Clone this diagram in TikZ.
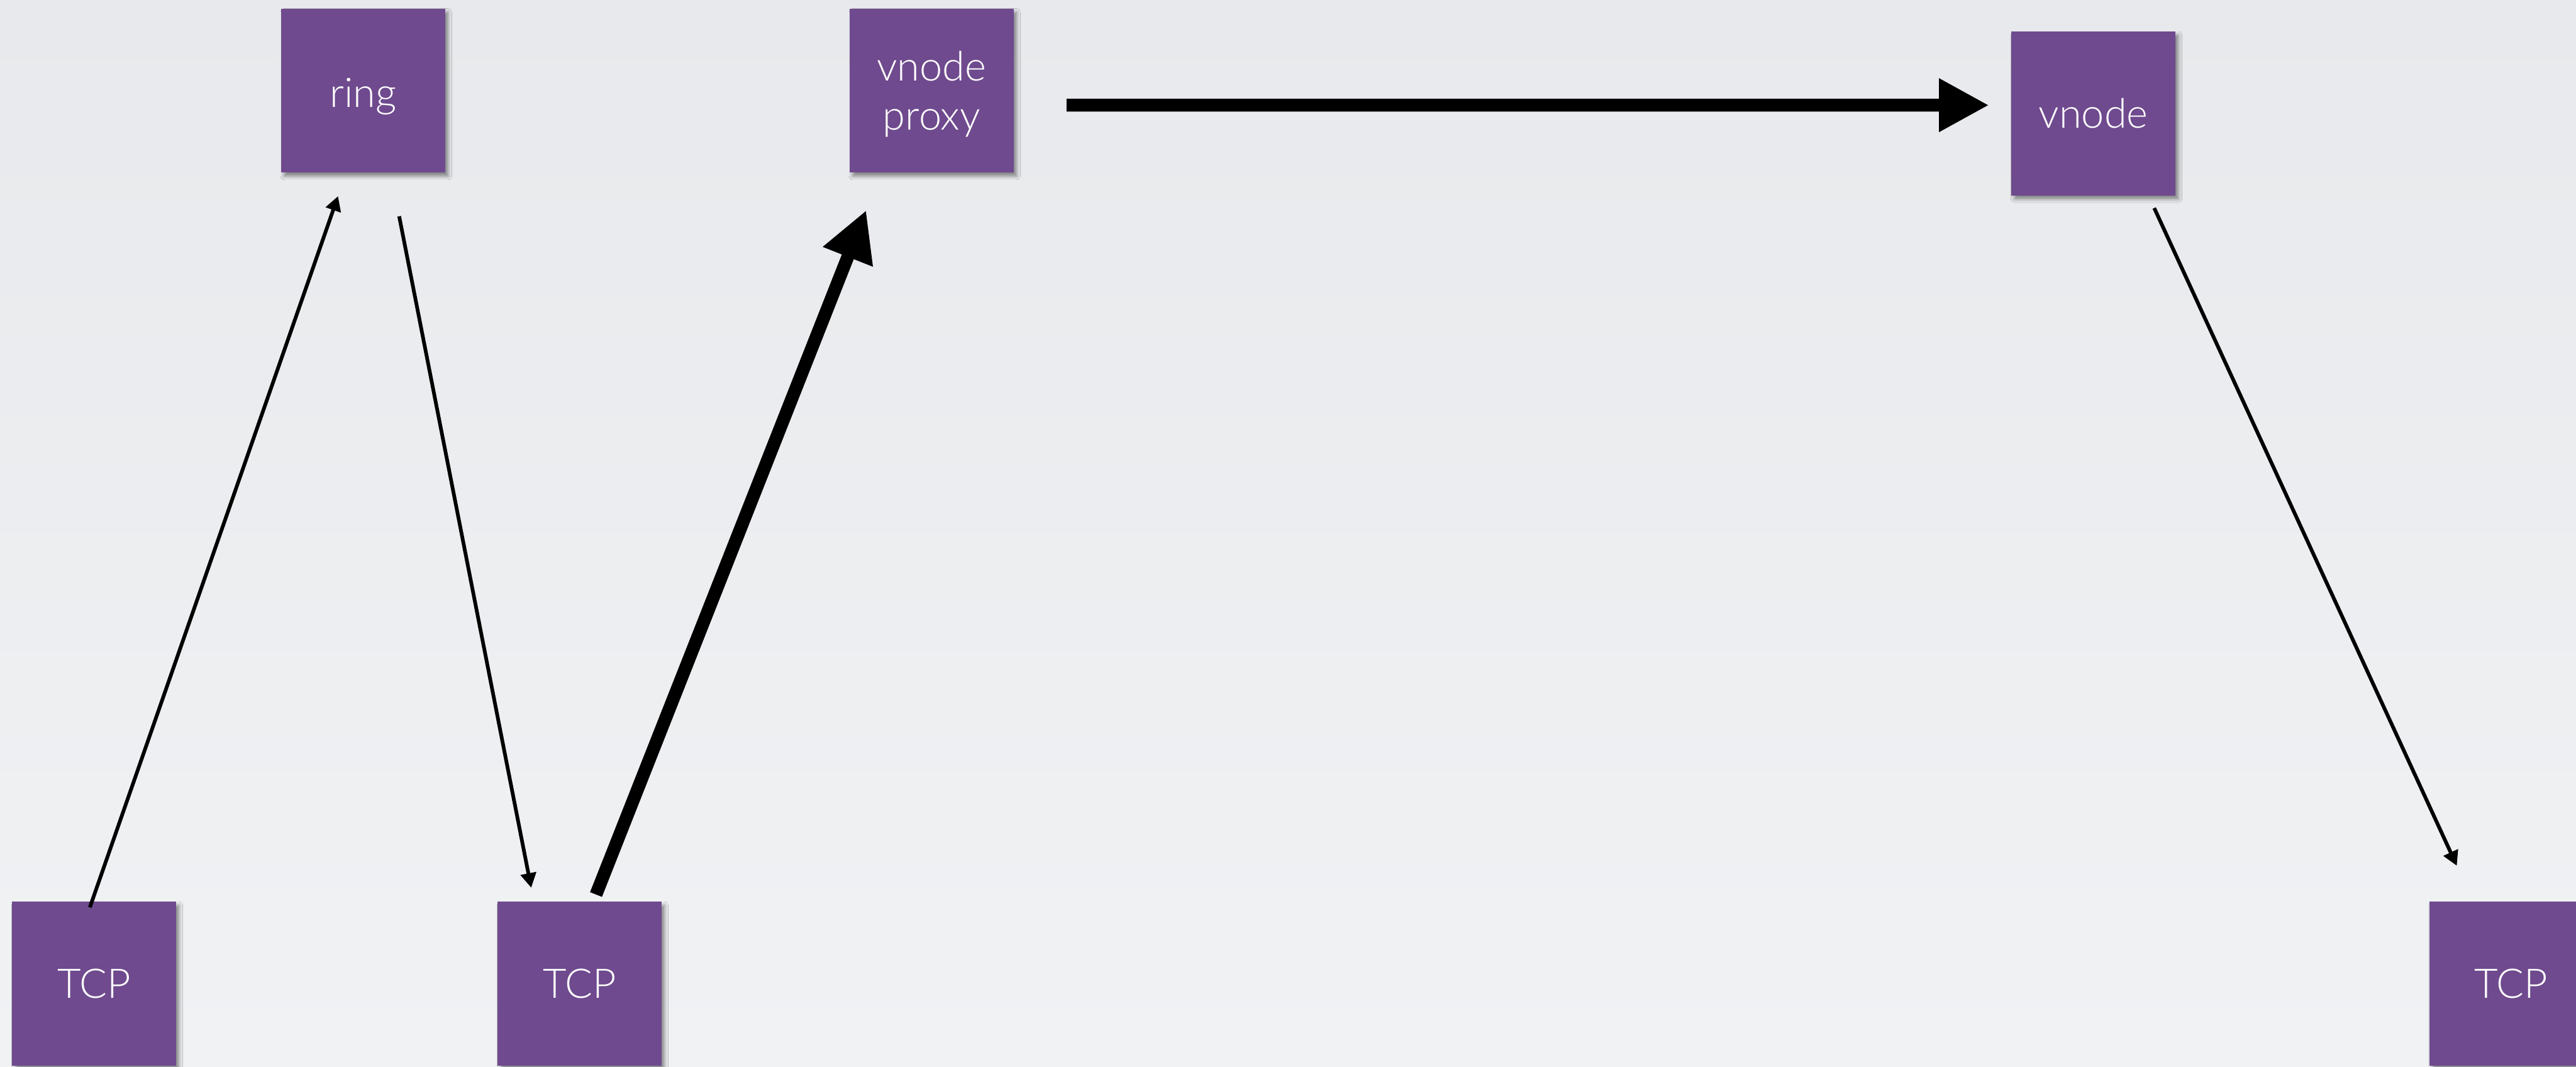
\documentclass[tikz,border=0pt]{standalone}
\usepackage{fontspec}
\setmainfont{Lato}[UprightFont={* Light}]
\usetikzlibrary{arrows.meta,shadows.blur,calc}
\definecolor{boxpurple}{RGB}{111,74,142}
\definecolor{bgtop}{RGB}{231,233,236}
\definecolor{bgbot}{RGB}{241,242,244}
\tikzset{
  box/.style={fill=boxpurple, minimum width=2.68cm, minimum height=2.68cm, inner sep=0pt,
    text=white, font=\fontsize{19}{23}\selectfont, align=center,
    blur shadow={shadow xshift=0.5mm, shadow yshift=-0.6mm, shadow blur radius=0.6mm, shadow opacity=45}},
  thinarrow/.style={line width=0.06cm, -{Triangle[length=0.24cm,width=0.25cm]}},
  thickarrow/.style={line width=0.21cm, -{Triangle[length=0.82cm,width=0.82cm]}}
}
\begin{document}
\begin{tikzpicture}
\shade[top color=bgtop, bottom color=bgbot] (0,0) rectangle (42.14,-17.44);
\useasboundingbox (0,0) rectangle (42.14,-17.44);

\node[box] (ring) at (5.94,-1.48) {\raisebox{-0.1cm}[\height][\depth]{ring}};
\node[box] (proxy) at (15.24,-1.48) {\raisebox{-0.08cm}[\height][\depth]{\begin{tabular}{@{}c@{}}vnode\\proxy\end{tabular}}};
\node[box] (vnode) at (34.245,-1.855) {vnode};
\node[box] (tcp1) at (1.54,-16.085) {TCP};
\node[box] (tcp2) at (9.48,-16.085) {TCP};
\node[box] (tcp3) at (41.08,-16.085) {TCP};

\draw[thinarrow] ([shift={(-0.07,-0.10)}]tcp1.north) -- ([shift={(-0.41,-0.38)}]ring.south);
\draw[thinarrow] ([shift={(0.59,-0.71)}]ring.south) -- ([shift={(-0.79,0.22)}]tcp2.north);
\draw[thickarrow] ([shift={(0.27,0.11)}]tcp2.north) -- ([shift={(-1.07,-0.61)}]proxy.south);
\draw[thickarrow] ([shift={(0.86,-0.24)}]proxy.east) -- ([shift={(-0.36,0.135)}]vnode.west);
\draw[thinarrow] ([shift={(0.995,-0.20)}]vnode.south) -- ([shift={(-0.89,0.58)}]tcp3.north);
\end{tikzpicture}
\end{document}
